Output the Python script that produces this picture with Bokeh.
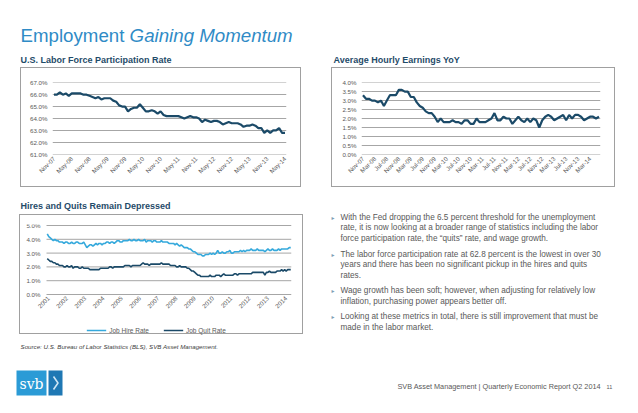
import math
from bokeh.plotting import figure
from bokeh.models import (Range1d, FixedTicker, PrintfTickFormatter,
                          Legend, LegendItem, ColumnDataSource)
from bokeh.layouts import column, row
from bokeh.core.properties import value
from bokeh.embed import file_html
from bokeh.resources import INLINE

# ---------------- data ----------------
# U.S. Labor Force Participation Rate, monthly Nov-07 .. May-14 (%)
lfpr = [66.0, 66.0,
        66.2, 66.0, 66.1, 65.9, 66.1, 66.1, 66.1, 66.1, 66.0, 66.0, 65.9, 65.8,
        65.7, 65.8, 65.6, 65.7, 65.7, 65.7, 65.5, 65.4, 65.1, 65.0, 65.0, 64.6,
        64.8, 64.9, 64.9, 65.2, 64.9, 64.6, 64.6, 64.7, 64.6, 64.4, 64.6, 64.3,
        64.2, 64.2, 64.2, 64.2, 64.2, 64.1, 64.0, 64.1, 64.2, 64.1, 64.1, 64.0,
        63.7, 63.9, 63.8, 63.7, 63.8, 63.8, 63.7, 63.5, 63.6, 63.7, 63.6, 63.6,
        63.6, 63.5, 63.3, 63.4, 63.4, 63.5, 63.4, 63.2, 63.2, 62.8, 63.0, 62.8,
        63.0, 63.0, 63.2, 62.8, 62.8]
lfpr_labels = ["Nov-07", "May-08", "Nov-08", "May-09", "Nov-09", "May-10", "Nov-10",
               "May-11", "Nov-11", "May-12", "Nov-12", "May-13", "Nov-13", "May-14"]
lfpr_yticks = [61, 62, 63, 64, 65, 66, 67]

# Average Hourly Earnings YoY, monthly Nov-07 .. Jun-14 (%)
ahe = [3.3, 3.1, 3.1, 3.0, 3.0, 2.9, 3.0, 2.7, 3.0, 3.3, 3.3, 3.3,
       3.6, 3.6, 3.5, 3.5, 3.2, 3.2, 2.9, 2.7, 2.6, 2.4, 2.3, 2.3,
       2.1, 1.8, 2.0, 1.8, 1.8, 1.8, 1.9, 1.8, 1.8, 1.7, 1.9, 1.9,
       1.7, 1.7, 2.0, 1.8, 1.8, 1.8, 1.9, 2.0, 2.3, 1.9, 1.9, 2.1,
       2.0, 2.0, 1.7, 1.9, 2.1, 1.9, 1.8, 2.0, 1.8, 2.0, 1.9, 1.5,
       1.9, 2.1, 2.2, 2.1, 1.9, 2.0, 2.1, 2.2, 1.9, 2.2, 2.0, 2.2,
       2.2, 2.1, 1.9, 2.0, 2.1, 2.1, 2.0, 2.1]
ahe_labels = ["Nov-07", "Mar-08", "Jul-08", "Nov-08", "Mar-09", "Jul-09", "Nov-09",
              "Mar-10", "Jul-10", "Nov-10", "Mar-11", "Jul-11", "Nov-11", "Mar-12",
              "Jul-12", "Nov-12", "Mar-13", "Jul-13", "Nov-13", "Mar-14"]
ahe_yticks = [0.0, 0.5, 1.0, 1.5, 2.0, 2.5, 3.0, 3.5, 4.0]

# JOLTS hires and quits rates, monthly Dec-00 .. Apr-14 (%)
hires = [4.4,
         4.2, 4.1, 4.0, 3.9, 4.0, 3.9, 3.9, 3.8, 3.8, 3.8, 3.7, 3.8,
         3.8, 3.7, 3.7, 3.8, 3.7, 3.7, 3.8, 3.8, 3.7, 3.7, 3.7, 3.8,
         3.6, 3.4, 3.5, 3.6, 3.6, 3.5, 3.6, 3.7, 3.6, 3.7, 3.7, 3.6,
         3.7, 3.7, 3.8, 3.8, 3.7, 3.8, 3.8, 3.7, 3.8, 3.9, 3.9, 3.8,
         3.8, 3.9, 3.9, 3.9, 3.9, 4.0, 3.9, 3.9, 4.0, 3.9, 3.9, 4.0,
         3.9, 3.9, 3.9, 4.0, 3.8, 3.9, 3.9, 3.9, 3.8, 3.9, 3.9, 3.8,
         3.8, 3.8, 3.9, 3.8, 3.8, 3.8, 3.8, 3.7, 3.7, 3.7, 3.7, 3.6,
         3.7, 3.6, 3.5, 3.6, 3.5, 3.4, 3.4, 3.4, 3.3, 3.3, 3.2, 3.1,
         3.1, 3.0, 2.9, 2.9, 2.9, 2.8, 2.8, 2.9, 2.9, 2.9, 3.0, 2.9,
         3.0, 2.9, 3.0, 3.2, 3.0, 3.0, 3.1, 3.0, 3.0, 3.1, 3.1, 3.2,
         3.0, 3.0, 3.1, 3.1, 3.1, 3.1, 3.2, 3.1, 3.2, 3.1, 3.2, 3.2,
         3.2, 3.3, 3.2, 3.2, 3.2, 3.3, 3.2, 3.2, 3.2, 3.2, 3.1, 3.2,
         3.3, 3.2, 3.2, 3.3, 3.2, 3.2, 3.2, 3.3, 3.2, 3.3, 3.3, 3.3,
         3.3, 3.3, 3.4, 3.4]
quits = [2.6,
         2.5, 2.4, 2.4, 2.3, 2.3, 2.2, 2.2, 2.1, 2.1, 2.1, 2.0, 2.0,
         2.1, 2.0, 2.0, 2.1, 1.9, 2.0, 2.0, 2.0, 1.9, 1.9, 2.0, 1.9,
         1.9, 1.9, 1.9, 1.8, 1.8, 1.8, 1.8, 1.8, 1.8, 1.8, 1.9, 1.9,
         1.9, 1.9, 1.9, 1.9, 2.0, 2.0, 1.9, 2.0, 2.0, 2.0, 2.0, 2.0,
         2.0, 2.0, 2.1, 2.1, 2.1, 2.1, 2.0, 2.1, 2.1, 2.1, 2.1, 2.1,
         2.1, 2.2, 2.3, 2.2, 2.2, 2.2, 2.1, 2.2, 2.2, 2.2, 2.2, 2.2,
         2.2, 2.2, 2.3, 2.2, 2.2, 2.2, 2.2, 2.2, 2.1, 2.1, 2.1, 2.1,
         2.0, 2.0, 2.1, 2.0, 2.0, 2.0, 2.0, 1.9, 1.9, 1.8, 1.7, 1.7,
         1.6, 1.5, 1.4, 1.4, 1.3, 1.3, 1.3, 1.3, 1.3, 1.3, 1.4, 1.3,
         1.3, 1.3, 1.4, 1.4, 1.4, 1.3, 1.4, 1.5, 1.4, 1.4, 1.4, 1.4,
         1.4, 1.4, 1.5, 1.5, 1.4, 1.5, 1.5, 1.5, 1.5, 1.5, 1.5, 1.5,
         1.5, 1.5, 1.6, 1.6, 1.6, 1.6, 1.6, 1.6, 1.6, 1.6, 1.4, 1.6,
         1.6, 1.7, 1.6, 1.6, 1.6, 1.6, 1.7, 1.7, 1.7, 1.8, 1.7, 1.8,
         1.7, 1.8, 1.8, 1.8]
jolts_labels = ["2001", "2002", "2003", "2004", "2005", "2006", "2007",
                "2008", "2009", "2010", "2011", "2012", "2013", "2014"]
jolts_yticks = [0.0, 1.0, 2.0, 3.0, 4.0, 5.0]
series_names = ["Job Hire Rate", "Job Quit Rate"]

main_title = ["Employment ", "Gaining Momentum"]
chart_titles = ["U.S. Labor Force Participation Rate", "Average Hourly Earnings YoY",
                "Hires and Quits Remain Depressed"]
bullets = [
    ["With the Fed dropping the 6.5 percent threshold for the unemployment",
     "rate, it is now looking at a broader range of statistics including the labor",
     "force participation rate, the \u201cquits\u201d rate, and wage growth."],
    ["The labor force participation rate at 62.8 percent is the lowest in over 30",
     "years and there has been no significant pickup in the hires and quits",
     "rates."],
    ["Wage growth has been soft; however, when adjusting for relatively low",
     "inflation, purchasing power appears better off."],
    ["Looking at these metrics in total, there is still improvement that must be",
     "made in the labor market."],
]
source_text = "Source: U.S. Bureau of Labor Statistics (BLS), SVB Asset Management."
footer_text = "SVB Asset Management  |  Quarterly Economic Report Q2 2014"
page_no = "11"

# ---------------- style ----------------
FONT = "Liberation Sans"
DARK = "#1b4a68"
LIGHT = "#35a9dc"
TITLE_BLUE = "#2f8bc6"
CT_COLOR = "#1f4b69"
GRAY_TXT = "#595959"
GRID = "#a6a6a6"
BOX = "#a0a0a0"
TICK_FS = "6.2px"


def text_fig(w, h, margin=0):
    p = figure(width=w, height=h, x_range=Range1d(0, w), y_range=Range1d(h, 0),
               output_backend="svg", toolbar_location=None, min_border=0, title=None,
               x_axis_location=None, y_axis_location=None, margin=margin)
    p.grid.visible = False
    p.outline_line_color = None
    return p


def chart(w, h, fl, fr, ft, fb, xr, yr, margin):
    p = figure(width=w, height=h, x_range=xr, y_range=yr, output_backend="svg",
               toolbar_location=None, title=None, min_border_left=fl,
               min_border_right=w - fr, min_border_top=ft, min_border_bottom=h - fb,
               margin=margin, styles={"border": "1px solid " + BOX})
    p.outline_line_color = None
    p.xgrid.grid_line_color = None
    p.ygrid.grid_line_color = GRID
    p.ygrid.grid_line_width = 1
    for ax in (p.xaxis[0], p.yaxis[0]):
        ax.axis_line_color = None
        ax.major_tick_line_color = None
        ax.minor_tick_line_color = None
        ax.major_tick_out = 0
        ax.major_tick_in = 0
        ax.major_label_text_font = FONT
        ax.major_label_text_font_size = TICK_FS
        ax.major_label_text_color = GRAY_TXT
    p.yaxis.major_label_standoff = 5
    p.xaxis.major_label_standoff = 3
    p.xaxis.major_label_orientation = math.pi / 4
    return p


# ---------------- header (page y 0..66) ----------------
header = text_fig(630, 66)
header.text(x=[20], y=[34.5], text=[main_title[0]], text_font=value(FONT),
            text_font_size="18.7px", text_color=TITLE_BLUE, text_baseline="middle")
header.text(x=[20 + 18.7 * 5.835], y=[34.5], text=[main_title[1]], text_font=value(FONT),
            text_font_size="18.7px", text_font_style="italic", text_color=TITLE_BLUE,
            text_baseline="middle")
header.text(x=[20, 333], y=[59.5, 59.5], text=chart_titles[:2], text_font=value(FONT),
            text_font_size="9px", text_font_style="bold", text_color=CT_COLOR,
            text_baseline="middle")

# ---------------- chart 1 (box page x 20..303, y 67..189) ----------------
c1 = chart(281, 120, 31, 265, 13, 87, Range1d(-0.5, 78.5), Range1d(60.98, 67.02),
           (1, 0, 1, 20))
t1 = FixedTicker(ticks=lfpr_yticks)
c1.yaxis.ticker = t1
c1.ygrid.ticker = t1
c1.yaxis.formatter = PrintfTickFormatter(format="%.1f%%")
c1.xaxis.ticker = FixedTicker(ticks=[6 * i for i in range(len(lfpr_labels))])
c1.xaxis.major_label_overrides = {6 * i: s for i, s in enumerate(lfpr_labels)}
c1.line(x="x", y="y", source=ColumnDataSource(dict(x=list(range(len(lfpr))), y=lfpr)),
        line_color=DARK, line_width=2.2)

# ---------------- chart 2 (box page x 333..619, y 67..189) ----------------
c2 = chart(284, 120, 29, 268, 14, 86, Range1d(-0.5, 79.5), Range1d(-0.01, 4.01),
           (1, 0, 1, 30))
t2 = FixedTicker(ticks=ahe_yticks)
c2.yaxis.ticker = t2
c2.ygrid.ticker = t2
c2.yaxis.formatter = PrintfTickFormatter(format="%.1f%%")
c2.xaxis.ticker = FixedTicker(ticks=[4 * i for i in range(len(ahe_labels))])
c2.xaxis.major_label_overrides = {4 * i: s for i, s in enumerate(ahe_labels)}
c2.line(x="x", y="y", source=ColumnDataSource(dict(x=list(range(len(ahe))), y=ahe)),
        line_color=DARK, line_width=2.2)

# ---------------- chart 3 title strip (page y 190..213) ----------------
strip = text_fig(630, 23)
strip.text(x=[20], y=[17], text=[chart_titles[2]], text_font=value(FONT),
           text_font_size="9px", text_font_style="bold", text_color=CT_COLOR,
           text_baseline="middle")

# ---------------- chart 3 (box page x 19..305, y 216..338) ----------------
# The frame fills the box (content x 1..271, y 9..120); the data area runs from
# x=-0.5 (content x 26) and 0%..5% (content y 79..10).  Both axes are pinned to
# the data area so that their labels and the legend stay inside the frame.
PX3 = 69 / 5.0          # px per percentage point
PXM = 245 / 161.0       # px per month
x0, x1 = -0.5, len(hires) - 0.5
c3 = chart(284, 120, 1, 271, 9, 120, Range1d(x0 - 25 / PXM, x1),
           Range1d(5 - 110 / PX3, 5 + 1 / PX3), (3, 0, 0, 19))
t3 = FixedTicker(ticks=jolts_yticks)
c3.yaxis.ticker = t3
c3.yaxis.formatter = PrintfTickFormatter(format="%.1f%%")
c3.yaxis.fixed_location = x0
c3.yaxis.major_label_standoff = 6
c3.ygrid.visible = False
c3.segment(x0=[x0] * len(jolts_yticks), x1=[x1] * len(jolts_yticks),
           y0=jolts_yticks, y1=jolts_yticks, line_color=GRID, line_width=1)
c3.xaxis.ticker = FixedTicker(ticks=[1 + 12 * i for i in range(len(jolts_labels))])
c3.xaxis.major_label_overrides = {1 + 12 * i: s for i, s in enumerate(jolts_labels)}
c3.xaxis.fixed_location = 0
src3 = ColumnDataSource(dict(x=list(range(len(hires))), h=hires, q=quits))
r_h = c3.line(x="x", y="h", source=src3, line_color=LIGHT, line_width=1.6)
r_q = c3.line(x="x", y="q", source=src3, line_color=DARK, line_width=1.6)
leg = Legend(items=[LegendItem(label=series_names[0], renderers=[r_h]),
                    LegendItem(label=series_names[1], renderers=[r_q])],
             orientation="horizontal", location="bottom_center", border_line_color=None,
             background_fill_alpha=0, label_text_font=FONT, label_text_font_size="6.5px",
             label_text_color=GRAY_TXT, glyph_width=20, glyph_height=8, spacing=14,
             padding=0, margin=1, label_standoff=3, label_height=8)
c3.add_layout(leg, "center")

# ---------------- bullets (page x 305..630, y 213..338) ----------------
bf = text_fig(325, 125)
centers = [[6, 16, 27], [43, 53, 64], [79, 90], [105, 116]]
bx, by, bt, mx, my = [], [], [], [], []
for lines, ys in zip(bullets, centers):
    mx.append(28)
    my.append(ys[0])
    for s, yy in zip(lines, ys):
        bx.append(37)
        by.append(yy)
        bt.append(s)
bf.text(x=mx, y=my, text=["\u25b8"] * len(mx), text_font=value("DejaVu Sans"),
        text_font_size="6px", text_color="#7f9fb5", text_baseline="middle")
bf.text(x=bx, y=by, text=bt, text_font=value(FONT), text_font_size="8.2px",
        text_color=GRAY_TXT, text_baseline="middle")

# ---------------- footer (page y 338..405) ----------------
ff = text_fig(630, 67)
ff.text(x=[20], y=[10], text=[source_text], text_font=value(FONT), text_font_size="6.2px",
        text_font_style="italic", text_color="#404040", text_baseline="middle")
ff.quad(left=[16], right=[46], top=[34], bottom=[59], fill_color="#2b9bd6", line_color=None)
ff.quad(left=[48], right=[62], top=[34], bottom=[59], fill_color="#1f78b4", line_color=None)
ff.text(x=[31], y=[47], text=["svb"], text_font=value("DejaVu Serif"), text_font_size="14px",
        text_color="white", text_align="center", text_baseline="middle")
ff.line(x=[53, 57.5, 53], y=[40, 46.5, 53], line_color="#cfe6f5", line_width=1.6)
ff.text(x=[397], y=[50], text=[footer_text], text_font=value(FONT), text_font_size="7.3px",
        text_color=GRAY_TXT, text_baseline="middle")
ff.text(x=[606], y=[50], text=[page_no], text_font=value(FONT), text_font_size="5.5px",
        text_color=GRAY_TXT, text_baseline="middle")

layout = column(column(header), row(c1, c2), column(strip), row(c3, column(bf)), column(ff))

open("out.html", "w").write(file_html(layout, INLINE))
